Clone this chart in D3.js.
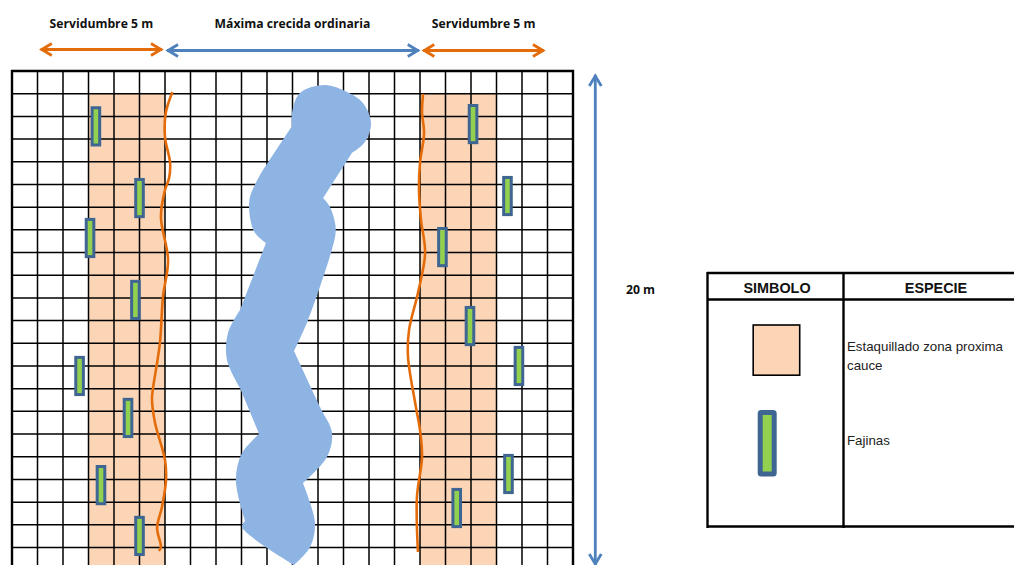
<!DOCTYPE html>
<html>
    <head>
        <meta charset="utf-8">
        <title>Servidumbre</title>
        <style>
            html, body { margin: 0; padding: 0; background: #fff; overflow: hidden; }
            svg { display: block; }
        </style>
    </head>
    <body>
        <script src="https://cdn.jsdelivr.net/npm/d3@7/dist/d3.min.js"></script>
        <script type="text/javascript">
            // all values are in grid cells: u across, v down from the top left corner
            var gridCols = 22,
                gridRows = 22;

            var bandLeft = [3, 6],
                bandRight = [16, 19],
                bandTop = 1;

            var dimLabels = ["Servidumbre 5 m", "Máxima crecida ordinaria", "Servidumbre 5 m"],
                dimFrom = [1.05, 6.0, 16.05],
                dimTo = [5.96, 16.03, 20.94],
                dimColors = ["#e46c0a", "#4f81bd", "#e46c0a"];

            var fajinasU = [3.29, 5, 3.06, 4.84, 2.65, 4.55, 3.49, 5, 18.08, 19.43, 16.88, 17.96, 19.88, 19.47, 17.44],
                fajinasV = [2.44, 5.6, 7.36, 10.09, 13.44, 15.29, 18.25, 20.49, 2.34, 5.51, 7.76, 11.24, 13.0, 17.76, 19.26];

            var orillaLeft = [[6.29, 0.93], [6.03, 1.85], [6.0, 2.91], [6.2, 4.05], [6.16, 4.72], [6.0, 5.24],
                [5.84, 6.43], [6.12, 8.33], [5.92, 9.96], [5.8, 11.99], [5.52, 14.06], [5.49, 14.5], [5.61, 15.51],
                [6.0, 17.14], [6.04, 18.03], [5.88, 19.22], [5.69, 20.14], [5.84, 20.98], [5.76, 21.15]];

            var orillaRight = [[16.12, 1.01], [16.08, 1.85], [16.16, 2.73], [16.0, 4.05], [15.96, 5.24], [16.04, 6.57],
                [16.2, 8.02], [15.92, 9.78], [15.57, 11.42], [15.53, 12.6], [15.84, 14.81], [16.0, 15.82],
                [16.08, 17.01], [15.88, 18.78], [15.92, 21.2]];

            // river outline, one list per smooth stretch, corners between them
            var rio = [
                [[10.98, 2.42], [10.98, 1.85], [11.29, 0.97], [12.27, 0.62], [13.14, 0.93], [13.76, 1.41], [14.08, 2.29], [13.84, 3.13], [13.33, 3.61]],
                [[13.33, 3.61], [12.2, 5.6]],
                [[12.2, 5.6], [12.47, 5.99], [12.67, 6.7], [12.69, 7.14], [12.54, 7.89], [11.61, 10.97], [11.06, 12.34]],
                [[11.06, 12.34], [12.08, 14.81], [12.55, 15.95], [12.35, 17.01], [11.41, 18.16]],
                [[11.41, 18.16], [11.88, 19.92], [11.69, 20.98], [11.06, 21.77]],
                [[11.06, 21.77], [9.02, 20.1], [9.14, 19.83]],
                [[9.14, 19.83], [8.78, 18.03], [9.02, 16.84], [9.69, 16.0]],
                [[9.69, 16.0], [8.94, 13.97]],
                [[8.94, 13.97], [8.43, 12.74], [8.47, 11.55], [8.94, 10.53]],
                [[8.94, 10.53], [9.96, 7.58]],
                [[9.96, 7.58], [9.53, 7.14], [9.33, 6.43], [9.33, 5.55], [9.84, 4.36]],
                [[9.84, 4.36], [10.98, 2.42]]
            ];

            var tablaHead = ["SIMBOLO", "ESPECIE"],
                estaquillado = ["Estaquillado zona proxima", "cauce"],
                fajinas = "Fajinas",
                altoLabel = "20 m";

            var w = 1014,
                h = 565;

            var x = d3.scaleLinear().domain([0, gridCols]).range([12, 573]),
                y = d3.scaleLinear().domain([0, gridRows]).range([71, 570.2]);

            var svg = d3.select("body").append("svg")
                .attr("width", w)
                .attr("height", h);

            var peach = "#fbd5b5", green = "#92d050", slate = "#3f6592";

            // arrow heads
            var defs = svg.append("defs");
            ["#e46c0a", "#4f81bd"].forEach(function(c, i) {
                defs.append("marker")
                    .attr("id", "head" + i)
                    .attr("markerUnits", "userSpaceOnUse")
                    .attr("viewBox", "-13 -8 15 16")
                    .attr("refX", 0).attr("refY", 0)
                    .attr("markerWidth", 15).attr("markerHeight", 16)
                    .attr("orient", "auto-start-reverse")
                    .append("path")
                    .attr("d", "M-11,-6L-1,0L-11,6")
                    .attr("fill", "none")
                    .attr("stroke", c)
                    .attr("stroke-width", 2.8);
            });

            // peach bands sit under the grid
            [bandLeft, bandRight].forEach(function(b) {
                svg.append("rect")
                    .attr("x", x(b[0]))
                    .attr("y", y(bandTop))
                    .attr("width", x(b[1]) - x(b[0]))
                    .attr("height", h - y(bandTop))
                    .attr("fill", peach);
            });

            svg.append("g").selectAll("line")
                .data(d3.range(1, gridCols))
                .enter().append("line")
                    .attr("x1", function(d) { return x(d); })
                    .attr("x2", function(d) { return x(d); })
                    .attr("y1", y(0))
                    .attr("y2", h)
                    .attr("stroke", "#000")
                    .attr("stroke-width", 1.5);

            svg.append("g").selectAll("line")
                .data(d3.range(1, gridRows))
                .enter().append("line")
                    .attr("x1", x(0))
                    .attr("x2", x(gridCols))
                    .attr("y1", function(d) { return y(d); })
                    .attr("y2", function(d) { return y(d); })
                    .attr("stroke", "#000")
                    .attr("stroke-width", 1.5);

            // frame is open at the bottom, the page cuts it off
            svg.append("path")
                .attr("d", "M" + x(0) + "," + h + "V" + y(0) + "H" + x(gridCols) + "V" + h)
                .attr("fill", "none")
                .attr("stroke", "#000")
                .attr("stroke-width", 2.4);

            // river
            var smooth = d3.line()
                .x(function(d) { return x(d[0]); })
                .y(function(d) { return y(d[1]); })
                .curve(d3.curveCatmullRom.alpha(0.5));

            var rioPath = rio.map(function(p, i) {
                var s = smooth(p);
                return i ? s.replace(/^M/, "L") : s;
            }).join("") + "Z";

            svg.append("path")
                .attr("d", rioPath)
                .attr("fill", "#8eb4e3");

            // bank lines
            [orillaLeft, orillaRight].forEach(function(o) {
                svg.append("path")
                    .attr("d", smooth(o))
                    .attr("fill", "none")
                    .attr("stroke", "#e46c0a")
                    .attr("stroke-width", 2.6);
            });

            // fajinas
            svg.append("g").selectAll("rect")
                .data(d3.range(fajinasU.length))
                .enter().append("rect")
                    .attr("x", function(i) { return x(fajinasU[i]) - 3.8; })
                    .attr("y", function(i) { return y(fajinasV[i]) - 18.6; })
                    .attr("width", 7.6)
                    .attr("height", 37.2)
                    .attr("fill", green)
                    .attr("stroke", slate)
                    .attr("stroke-width", 3);

            // dimension arrows
            dimLabels.forEach(function(t, i) {
                svg.append("line")
                    .attr("x1", x(dimFrom[i]) + 2)
                    .attr("x2", x(dimTo[i]) - 2)
                    .attr("y1", i == 0 ? 49.5 : 50.5)
                    .attr("y2", i == 0 ? 49.5 : 50.5)
                    .attr("stroke", dimColors[i])
                    .attr("stroke-width", 2.8)
                    .attr("marker-start", "url(#head" + (dimColors[i] == "#4f81bd" ? 1 : 0) + ")")
                    .attr("marker-end", "url(#head" + (dimColors[i] == "#4f81bd" ? 1 : 0) + ")");

                svg.append("text")
                    .attr("x", i == 1 ? 292.5 : (x(dimFrom[i]) + x(dimTo[i])) / 2)
                    .attr("y", 28)
                    .attr("text-anchor", "middle")
                    .attr("font-family", "'Open Sans', sans-serif")
                    .attr("font-weight", "bold")
                    .attr("font-size", 12.2)
                    .attr("fill", "#111")
                    .text(t);
            });

            svg.append("line")
                .attr("x1", 595.3).attr("x2", 595.3)
                .attr("y1", 75).attr("y2", 565)
                .attr("stroke", "#4f81bd")
                .attr("stroke-width", 2.8)
                .attr("marker-start", "url(#head1)")
                .attr("marker-end", "url(#head1)");

            svg.append("text")
                .attr("x", 626)
                .attr("y", 293.5)
                .attr("font-family", "'Open Sans', sans-serif")
                .attr("font-weight", "bold")
                .attr("font-size", 12.2)
                .attr("fill", "#111")
                .text(altoLabel);

            // legend table
            var tabla = svg.append("g");
            [[707, 273, 1014, 273], [707, 299.5, 1014, 299.5], [707, 526.5, 1014, 526.5],
             [707.5, 272, 707.5, 528], [843.5, 272, 843.5, 528]].forEach(function(l) {
                tabla.append("line")
                    .attr("x1", l[0]).attr("y1", l[1])
                    .attr("x2", l[2]).attr("y2", l[3])
                    .attr("stroke", "#000")
                    .attr("stroke-width", 2.4);
            });

            tablaHead.forEach(function(t, i) {
                tabla.append("text")
                    .attr("x", [777, 936][i])
                    .attr("y", 292.5)
                    .attr("text-anchor", "middle")
                    .attr("font-family", "'Liberation Sans', sans-serif")
                    .attr("font-weight", "bold")
                    .attr("font-size", 14.4)
                    .attr("fill", "#111")
                    .text(t);
            });

            tabla.append("rect")
                .attr("x", 753.2).attr("y", 325)
                .attr("width", 46.5).attr("height", 50.2)
                .attr("fill", peach)
                .attr("stroke", "#000")
                .attr("stroke-width", 1.6);

            tabla.append("rect")
                .attr("x", 760.2).attr("y", 412.5)
                .attr("width", 14).attr("height", 61.5)
                .attr("rx", 1)
                .attr("fill", green)
                .attr("stroke", slate)
                .attr("stroke-width", 5);

            estaquillado.forEach(function(t, i) {
                tabla.append("text")
                    .attr("x", 847)
                    .attr("y", 350.5 + i * 19.3)
                    .attr("font-family", "'Liberation Sans', sans-serif")
                    .attr("font-size", 13.3)
                    .attr("fill", "#222")
                    .text(t);
            });

            tabla.append("text")
                .attr("x", 847)
                .attr("y", 445)
                .attr("font-family", "'Liberation Sans', sans-serif")
                .attr("font-size", 13.3)
                .attr("fill", "#222")
                .text(fajinas);
        </script>
    </body>
</html>
